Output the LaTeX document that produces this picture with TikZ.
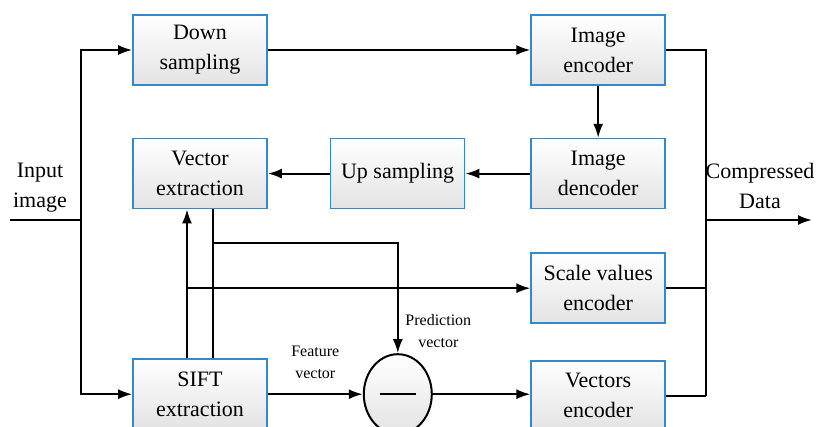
\documentclass[tikz,border=0pt]{standalone}
\usepackage{fontspec}
\setmainfont{Liberation Serif}
\usetikzlibrary{positioning,arrows.meta,shapes.geometric}

\definecolor{boxblue}{RGB}{52,136,204}
\tikzset{
  block/.style={draw=boxblue, line width=0.8pt, top color=white, bottom color=gray!22,
    minimum width=67pt, minimum height=35pt, align=center, inner sep=2pt,
    font=\fontsize{11}{15}\selectfont},
  flow/.style={line width=1pt, -{Latex[length=7pt,width=5pt]}},
  wire/.style={line width=1pt},
  note/.style={align=center, font=\fontsize{8}{11}\selectfont}
}

\begin{document}
\begin{tikzpicture}
            \useasboundingbox (0,0) rectangle (408pt,-213.5pt);

            \node [block] (down) at (100pt,-25pt) {Down\\sampling};
            \node [block, below=26pt of down] (vec) {Vector\\extraction};
            \node [block, below=74.5pt of vec] (sift) {SIFT\\extraction};
            \node [block, right=31pt of vec] (up) {Up sampling};
            \node [block, right=32.5pt of up] (dec) {Image\\dencoder};
            \node [block, above=26pt of dec] (enc) {Image\\encoder};
            \node [block, below=21.5pt of dec] (scale) {Scale values\\encoder};
            \node [block, below=18pt of scale] (vencd) {Vectors\\encoder};
            \node [ellipse, draw, line width=1pt, top color=white, bottom color=gray!22,
                   minimum width=34pt, minimum height=40pt, right=47.5pt of sift] (diff) {};
            \draw [wire] ([xshift=-9pt]diff.center) -- ([xshift=9pt]diff.center);

            \coordinate (in) at (5pt,-110pt);
            \coordinate (split) at (40.5pt,-110pt);
            \coordinate (bus) at ([xshift=20pt]enc.east);
            \coordinate (out) at (406pt,-110pt);
            \coordinate (sl) at ([xshift=-6.5pt]sift.north);
            \coordinate (sr) at ([xshift=6.5pt]sift.north);
            \coordinate (pv) at ([xshift=6.5pt,yshift=-17pt]vec.south);

            \node [align=center, font=\fontsize{11}{15}\selectfont] (inlbl) at (20pt,-94pt) {Input\\image};
            \node [align=center, font=\fontsize{11}{15}\selectfont] (outlbl) at (380pt,-93pt) {Compressed\\Data};

            \draw [wire] (in) -- (split);
            \draw [flow] (split) |- (down);
            \draw [flow] (split) |- (sift);
            \draw [flow] (down) -- (enc);
            \draw [flow] (enc) -- (dec);
            \draw [flow] (dec) -- (up);
            \draw [flow] (up) -- (vec);

            \draw [flow] (sl) -- (sl |- vec.south);
            \draw [wire] (sr) -- (sr |- vec.south);
            \draw [flow] (pv) -| (diff) node [pos=0.9, right, note] {Prediction\\vector};
            \draw [flow] (sl |- scale.west) -- (scale.west);
            \draw [flow] (sift) -- (diff) node [midway, above=4pt, note] {Feature\\vector};
            \draw [flow] (diff) -- (diff -| vencd.west);

            \draw [wire] (enc) -- (bus) -- (bus |- vencd);
            \draw [wire] (scale) -- (scale -| bus);
            \draw [wire] (vencd) -- (vencd -| bus);
            \draw [flow] (out -| bus) -- (out);
        \end{tikzpicture}
\end{document}
